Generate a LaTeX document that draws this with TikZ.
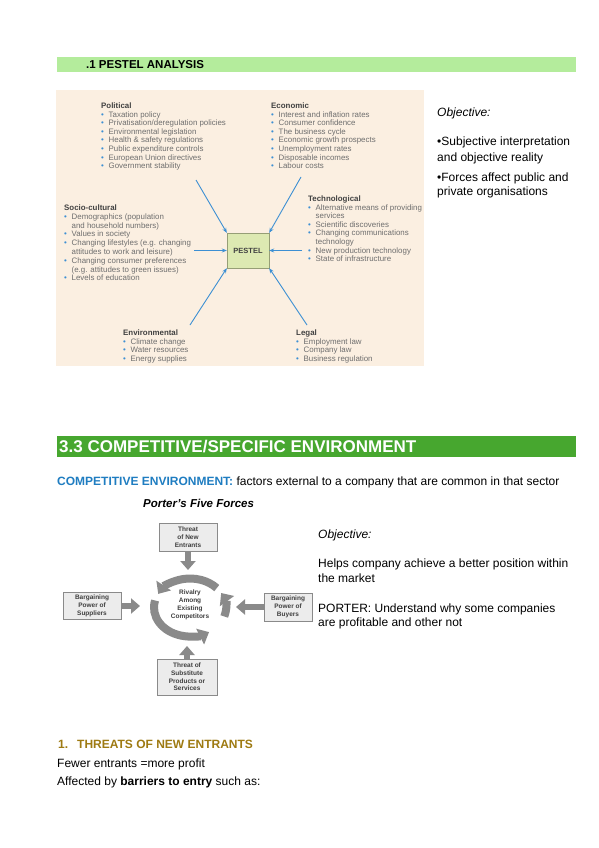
\documentclass[tikz,border=0pt]{standalone}
\usepackage{fontspec}
\setmainfont{Liberation Sans}
\usetikzlibrary{arrows.meta, positioning, shapes.geometric}

\definecolor{barlight}{RGB}{180,236,156}
\definecolor{bardark}{RGB}{71,167,47}
\definecolor{peach}{RGB}{251,239,225}
\definecolor{pblue}{RGB}{60,143,211}
\definecolor{pgray}{RGB}{110,110,110}
\definecolor{ptitle}{RGB}{65,65,65}
\definecolor{boxgreen}{RGB}{221,233,178}
\definecolor{boxedge}{RGB}{150,158,118}
\definecolor{forcegray}{RGB}{138,138,138}
\definecolor{forcebox}{RGB}{236,236,236}
\definecolor{envblue}{RGB}{31,125,193}
\definecolor{gold}{RGB}{158,122,18}

\newcommand{\pbul}{\makebox[7.5pt][l]{\textcolor{pblue}{\textbullet}}}
\newcommand{\pgap}{\hspace*{7.5pt}}

\begin{document}
\begin{tikzpicture}[x=1pt, y=-1pt, >=Stealth,
  txt/.style={anchor=base west, inner sep=0, font=\fontsize{12}{14}\selectfont},
  item/.style={anchor=base west, inner sep=0, text=pgray, font=\fontsize{7.9}{8.6}\selectfont},
  itemhead/.style={item, text=ptitle, font=\fontsize{7.9}{8.6}\selectfont\bfseries},
  pull/.style={pblue, line width=0.9pt, -{Stealth[length=5pt,width=4pt]}},
  force/.style={draw=forcegray, fill=forcebox, line width=0.8pt, align=center, inner sep=0,
    text=black!75, font=\fontsize{6.5}{7.7}\selectfont\bfseries},
  push/.style={forcegray, line width=6pt, -{Triangle[width=15pt,length=9pt]}},
  spin/.style={forcegray, line width=8pt, -{Triangle[width=17pt,length=10pt]}}]
  \useasboundingbox (0,0) rectangle (599,848);
  \fill[white] (0,0) rectangle (599,848);

  % --- PESTEL heading ---
  \fill[barlight] (57,57) rectangle (576,72);
  \node[txt, font=\fontsize{11.5}{14}\selectfont\bfseries] (pestel-title) at (86,69) {.1 PESTEL ANALYSIS};

  % --- PESTEL figure ---
  \fill[peach] (56,90) rectangle (424,366);
  \node[draw=boxedge, fill=boxgreen, minimum width=42, minimum height=35, inner sep=0,
    text=ptitle, font=\fontsize{7.5}{9}\selectfont\bfseries] (pestel) at (248,250.5) {PESTEL};

  \node[itemhead] (pol) at (101,108.5) {Political};
  \foreach \t [count=\i] in {Taxation policy, Privatisation/deregulation policies,
      Environmental legislation, Health \& safety regulations, Public expenditure controls,
      European Union directives, Government stability}
    \node[item] (pol-\i) at (101,108.5+8.6*\i) {\pbul\t};

  \node[itemhead] (eco) at (271,108.5) {Economic};
  \foreach \t [count=\i] in {Interest and inflation rates, Consumer confidence,
      The business cycle, Economic growth prospects, Unemployment rates,
      Disposable incomes, Labour costs}
    \node[item] (eco-\i) at (271,108.5+8.6*\i) {\pbul\t};

  \node[itemhead] (soc) at (64,210.5) {Socio-cultural};
  \foreach \t [count=\i] in {\pbul Demographics (population, \pgap and household numbers),
      \pbul Values in society, \pbul Changing lifestyles (e.g. changing,
      \pgap attitudes to work and leisure), \pbul Changing consumer preferences,
      \pgap (e.g. attitudes to green issues), \pbul Levels of education}
    \node[item] (soc-\i) at (64,210.5+8.8*\i) {\t};

  \node[itemhead] (tec) at (308,201.5) {Technological};
  \foreach \t [count=\i] in {\pbul Alternative means of providing, \pgap services,
      \pbul Scientific discoveries, \pbul Changing communications, \pgap technology,
      \pbul New production technology, \pbul State of infrastructure}
    \node[item] (tec-\i) at (308,201.5+8.6*\i) {\t};

  \node[itemhead] (env) at (123,335.5) {Environmental};
  \foreach \t [count=\i] in {Climate change, Water resources, Energy supplies}
    \node[item] (env-\i) at (123,335.5+8.7*\i) {\pbul\t};

  \node[itemhead] (leg) at (296,335.5) {Legal};
  \foreach \t [count=\i] in {Employment law, Company law, Business regulation}
    \node[item] (leg-\i) at (296,335.5+8.7*\i) {\pbul\t};

  % arrows into the PESTEL box
  \coordinate (pol-tail) at (196,180);
  \coordinate (eco-tail) at (301,177);
  \coordinate (soc-tail) at (194,250.5);
  \coordinate (tec-tail) at (302,250.5);
  \coordinate (env-tail) at (190,325);
  \coordinate (leg-tail) at (307,325);
  \draw[pull] (pol-tail) -- (pestel.north west);
  \draw[pull] (eco-tail) -- (pestel.north east);
  \draw[pull] (soc-tail) -- (pestel.west);
  \draw[pull] (tec-tail) -- (pestel.east);
  \draw[pull] (env-tail) -- (pestel.south west);
  \draw[pull] (leg-tail) -- (pestel.south east);

  % --- PESTEL objective ---
  \node[txt, font=\fontsize{12}{14}\selectfont\itshape] (obj-a) at (437,117) {Objective:};
  \node[txt] (obj-a1) at (437,146) {\textbullet Subjective interpretation};
  \node[txt] (obj-a2) at (437,161) {and objective reality};
  \node[txt] (obj-a3) at (437,181) {\textbullet Forces affect public and};
  \node[txt] (obj-a4) at (437,195) {private organisations};

  % --- 3.3 heading ---
  \fill[bardark] (57,436) rectangle (576,457);
  \node[txt, text=white, font=\fontsize{17}{20}\selectfont\bfseries] (sec) at (59,452.5)
    {3.3 COMPETITIVE/SPECIFIC ENVIRONMENT};
  \node[txt] (compenv) at (57,485) {\textcolor{envblue}{\bfseries COMPETITIVE ENVIRONMENT:}
    factors external to a company that are common in that sector};
  \node[txt, font=\fontsize{11.5}{14}\selectfont\bfseries\itshape] (porter) at (143,507)
    {Porter's Five Forces};

  % --- Five forces ---
  \node[force, minimum width=58, minimum height=28] (newent) at (188,537) {Threat\\of New\\Entrants};
  \node[force, minimum width=58, minimum height=27] (supp) at (92,606) {Bargaining\\Power of\\Suppliers};
  \node[force, minimum width=48, minimum height=28] (buy) at (288,607) {Bargaining\\Power of\\Buyers};
  \node[force, minimum width=60, minimum height=36] (subst) at (187,677) {Threat of\\Substitute\\Products or\\Services};
  \node[align=center, inner sep=0, text=black!75, font=\fontsize{6.5}{7.9}\selectfont\bfseries]
    (rivalry) at (190,605) {Rivalry\\Among\\Existing\\Competitors};

  % ring of arrows
  \coordinate (hub) at (190,607.5);
  \draw[spin] (hub) ++(-42:36 and 29) arc[start angle=-42, end angle=-152, x radius=36, y radius=29];
  \draw[spin] (hub) ++(-166:36 and 29) arc[start angle=-166, end angle=-302, x radius=36, y radius=29];
  \draw[spin] (hub) ++(18:36 and 29) arc[start angle=18, end angle=-30, x radius=36, y radius=29];

  \coordinate (hub-n) at (188,570);
  \coordinate (hub-w) at (140,606);
  \coordinate (hub-e) at (236,607);
  \coordinate (hub-s) at (187,646);
  \draw[push] (newent.south) -- (hub-n);
  \draw[push] (supp.east) -- (hub-w);
  \draw[push] (buy.west) -- (hub-e);
  \draw[push] (subst.north) -- (hub-s);

  % --- Porter objective ---
  \node[txt, font=\fontsize{12}{14}\selectfont\itshape] (obj-b) at (318,538) {Objective:};
  \node[txt] (obj-b1) at (318,567) {Helps company achieve a better position within};
  \node[txt] (obj-b2) at (318,582) {the market};
  \node[txt] (obj-b3) at (318,612) {PORTER: Understand why some companies};
  \node[txt] (obj-b4) at (318,626) {are profitable and other not};

  % --- Threats of new entrants ---
  \node[txt, text=gold, font=\fontsize{12}{14}\selectfont\bfseries] (threats) at (58,748)
    {1.\hspace*{9pt}THREATS OF NEW ENTRANTS};
  \node[txt] (fewer) at (57,767) {Fewer entrants =more profit};
  \node[txt] (barriers) at (57,785) {Affected by \textbf{barriers to entry} such as:};
\end{tikzpicture}
\end{document}
